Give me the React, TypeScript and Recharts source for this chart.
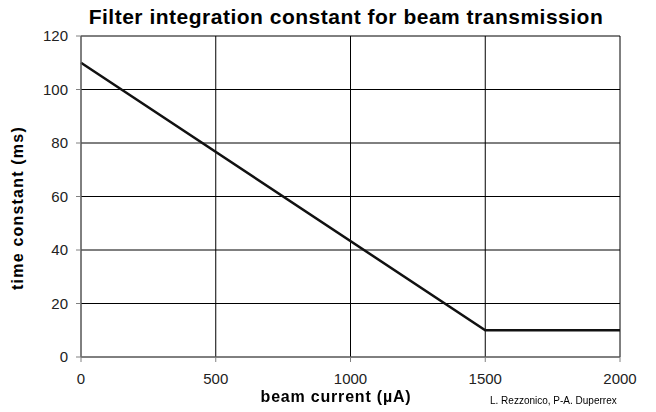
import { LineChart, Line, XAxis, YAxis, CartesianGrid } from "recharts";

const currents = [0, 1500, 2000];
const timeConstants = [110, 10, 10];
const xTicks = [0, 500, 1000, 1500, 2000];
const yTicks = [0, 20, 40, 60, 80, 100, 120];

const data = currents.map((c, i) => ({ current: c, tc: timeConstants[i] }));

const font = "'Liberation Sans', Arial, sans-serif";

export default function App() {
  return (
    <div
      style={{
        position: "fixed",
        left: 0,
        top: 0,
        width: 656,
        height: 412,
        background: "#fff",
        fontFamily: font,
      }}
    >
      <div
        style={{
          position: "absolute",
          top: 5,
          left: 0,
          width: 692,
          textAlign: "center",
          fontWeight: "bold",
          fontSize: 21,
          letterSpacing: 0.5,
          color: "#000",
        }}
      >
        Filter integration constant for beam transmission
      </div>
      <LineChart
        width={656}
        height={412}
        data={data}
        margin={{ top: 36, right: 36, bottom: 25, left: 0 }}
      >
        <CartesianGrid stroke="#000" strokeWidth={1} />
        <XAxis
          dataKey="current"
          type="number"
          domain={[0, 2000]}
          ticks={xTicks}
          interval={0}
          height={30}
          stroke="#808080"
          tickSize={5}
          tickMargin={11}
          tick={{ fill: "#222", fontSize: 15, fontFamily: font }}
        />
        <YAxis
          type="number"
          domain={[0, 120]}
          ticks={yTicks}
          interval={0}
          width={81}
          stroke="#808080"
          tickSize={5}
          tickMargin={8}
          tick={{ fill: "#222", fontSize: 15, fontFamily: font }}
        />
        <Line
          type="linear"
          dataKey="tc"
          stroke="#111"
          strokeWidth={2.5}
          dot={false}
          isAnimationActive={false}
        />
      </LineChart>
      <div
        style={{
          position: "absolute",
          top: 388,
          left: 0,
          width: 672,
          textAlign: "center",
          fontWeight: "bold",
          fontSize: 16,
          letterSpacing: 0.8,
          color: "#000",
        }}
      >
        beam current (µA)
      </div>
      <div
        style={{
          position: "absolute",
          left: 18,
          top: 208,
          transform: "translate(-50%, -50%) rotate(-90deg)",
          whiteSpace: "nowrap",
          fontWeight: "bold",
          fontSize: 16,
          letterSpacing: 1.2,
          color: "#000",
        }}
      >
        time constant (ms)
      </div>
      <div
        style={{
          position: "absolute",
          left: 490,
          top: 395,
          fontSize: 10,
          color: "#000",
          whiteSpace: "nowrap",
        }}
      >
        L. Rezzonico, P-A. Duperrex
      </div>
    </div>
  );
}
